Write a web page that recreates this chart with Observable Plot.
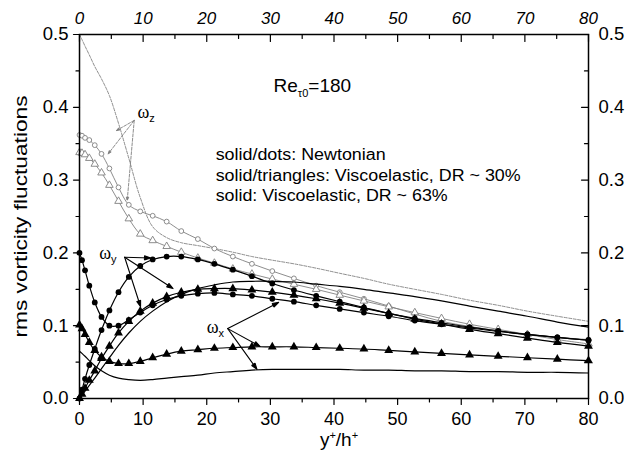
<!DOCTYPE html>
<html>
<head>
<meta charset="utf-8">
<script src="https://cdn.jsdelivr.net/npm/d3@7"></script>
<script src="https://cdn.jsdelivr.net/npm/@observablehq/plot@0.6"></script>
<style>
  body { margin: 0; background: #fff; }
  #chart svg { display: block; }
</style>
</head>
<body>
<div id="chart"></div>
<script>
// Wall-normal grid points (y+) at which the DNS profiles are sampled
const yPlus = [0, 0.39, 0.87, 1.54, 2.40, 3.46, 4.70, 6.13, 7.75, 9.55, 11.5, 13.7, 16.0, 18.6, 21.2,
               24.1, 27.1, 30.3, 33.7, 37.2, 40.9, 44.7, 48.6, 52.7, 56.9, 61.3, 65.8, 70.4, 75.1, 80.0];

// rms vorticity fluctuations, Newtonian (dots)
const wxNewt = [0.200, 0.190, 0.176, 0.155, 0.132, 0.112, 0.100, 0.100, 0.108, 0.118, 0.128, 0.136, 0.141, 0.144, 0.145,
                0.143, 0.141, 0.137, 0.133, 0.128, 0.123, 0.118, 0.113, 0.107, 0.102, 0.097, 0.092, 0.088, 0.084, 0.080];
const wyNewt = [0.000, 0.012, 0.027, 0.046, 0.068, 0.094, 0.121, 0.146, 0.167, 0.182, 0.191, 0.195, 0.195, 0.191, 0.185,
                0.177, 0.168, 0.158, 0.149, 0.141, 0.133, 0.125, 0.117, 0.110, 0.104, 0.098, 0.093, 0.088, 0.084, 0.080];
const wzNewt = [0.362, 0.361, 0.358, 0.355, 0.348, 0.336, 0.316, 0.290, 0.266, 0.257, 0.251, 0.243, 0.230, 0.219, 0.206,
                0.195, 0.185, 0.175, 0.165, 0.155, 0.146, 0.137, 0.127, 0.116, 0.106, 0.099, 0.093, 0.088, 0.084, 0.081];

// Viscoelastic, DR ~ 30% (triangles)
const wxVe30 = [0.101, 0.096, 0.088, 0.077, 0.066, 0.057, 0.051, 0.048, 0.048, 0.051, 0.056, 0.061, 0.065, 0.067, 0.069,
                0.070, 0.071, 0.071, 0.071, 0.070, 0.069, 0.068, 0.066, 0.064, 0.062, 0.060, 0.058, 0.056, 0.054, 0.052];
const wyVe30 = [0.000, 0.006, 0.014, 0.025, 0.038, 0.055, 0.072, 0.090, 0.106, 0.120, 0.131, 0.140, 0.146, 0.150, 0.151,
                0.151, 0.149, 0.146, 0.142, 0.137, 0.131, 0.124, 0.117, 0.109, 0.102, 0.095, 0.089, 0.083, 0.077, 0.072];
const wzVe30 = [0.338, 0.337, 0.335, 0.330, 0.322, 0.310, 0.293, 0.271, 0.247, 0.226, 0.217, 0.209, 0.201, 0.193, 0.186,
                0.178, 0.171, 0.164, 0.157, 0.150, 0.142, 0.134, 0.126, 0.118, 0.110, 0.102, 0.095, 0.088, 0.081, 0.075];

// Viscoelastic, DR ~ 63% (solid lines, no symbols)
const wxVe63 = [0.065, 0.062, 0.058, 0.052, 0.045, 0.038, 0.032, 0.028, 0.026, 0.025, 0.026, 0.028, 0.030, 0.032, 0.035,
                0.037, 0.039, 0.040, 0.040, 0.040, 0.040, 0.039, 0.039, 0.038, 0.038, 0.037, 0.037, 0.036, 0.036, 0.035];
const wyVe63 = [0.000, 0.004, 0.010, 0.018, 0.028, 0.041, 0.056, 0.073, 0.090, 0.106, 0.120, 0.133, 0.143, 0.151, 0.156,
                0.160, 0.161, 0.161, 0.160, 0.157, 0.154, 0.150, 0.145, 0.140, 0.134, 0.127, 0.120, 0.113, 0.105, 0.098];
const wzVe63 = [0.500, 0.493, 0.484, 0.472, 0.456, 0.439, 0.416, 0.378, 0.330, 0.276, 0.236, 0.221, 0.214, 0.210, 0.206,
                0.201, 0.195, 0.190, 0.185, 0.179, 0.172, 0.165, 0.157, 0.150, 0.143, 0.135, 0.128, 0.120, 0.113, 0.106];

// Axis ticks
const xTicks = [0, 10, 20, 30, 40, 50, 60, 70, 80];
const xMinor = [5, 15, 25, 35, 45, 55, 65, 75];
const yTicks = [0, 0.1, 0.2, 0.3, 0.4, 0.5];
const yMinor = [0.05, 0.15, 0.25, 0.35, 0.45];

// Component labels and their pointer arrows (data coordinates)
const compLabels = [
  {x: 9.1, y: 0.393, sub: "z"},
  {x: 3.1, y: 0.199, sub: "y"},
  {x: 20.0, y: 0.0975, sub: "x"}
];
const greyArrows = [
  {x1: 8.6, y1: 0.382, x2: 5.8, y2: 0.368},
  {x1: 8.6, y1: 0.382, x2: 4.5, y2: 0.336},
  {x1: 8.6, y1: 0.382, x2: 7.5, y2: 0.272}
];
const blackArrows = [
  {x1: 7.1, y1: 0.194, x2: 11.2, y2: 0.193},
  {x1: 7.1, y1: 0.194, x2: 14.7, y2: 0.151},
  {x1: 7.1, y1: 0.194, x2: 9.6, y2: 0.126},
  {x1: 23.3, y1: 0.096, x2: 31.3, y2: 0.132},
  {x1: 23.3, y1: 0.096, x2: 28.4, y2: 0.0714},
  {x1: 23.3, y1: 0.096, x2: 27.9, y2: 0.040}
];
const legendLines = [
  {x: 21.4, y: 0.3345, text: "solid/dots: Newtonian"},
  {x: 21.4, y: 0.3063, text: "solid/triangles: Viscoelastic, DR ~ 30%"},
  {x: 21.4, y: 0.2780, text: "solid: Viscoelastic, DR ~ 63%"}
];
const reLabel = [{x: 30.5, y: 0.430}];
const yTitle = ["rms vorticity fluctuations"];

// Rendered widths (px) of the wide, stretched annotation lettering
const legendWidths = [170, 305, 232];
const yTitleWidth = 242;

const GREY = "#808080";
const rows = vals => yPlus.map((x, i) => ({x, y: vals[i]}));

const series = [
  {vals: wzVe63, stroke: GREY, width: 0.9, dash: "3,1.5", marker: null},
  {vals: wzNewt, stroke: GREY, width: 0.9, dash: null, marker: "open-circle"},
  {vals: wzVe30, stroke: GREY, width: 0.9, dash: null, marker: "open-triangle"},
  {vals: wxVe63, stroke: "#000", width: 1.2, dash: null, marker: null},
  {vals: wyVe63, stroke: "#000", width: 1.2, dash: null, marker: null},
  {vals: wxVe30, stroke: "#000", width: 1.2, dash: null, marker: "triangle"},
  {vals: wyVe30, stroke: "#000", width: 1.2, dash: null, marker: "triangle"},
  {vals: wxNewt, stroke: "#000", width: 1.2, dash: null, marker: "dot"},
  {vals: wyNewt, stroke: "#000", width: 1.2, dash: null, marker: "dot"}
];

const curveMarks = series.flatMap(s => {
  const data = rows(s.vals);
  const out = [Plot.line(data, {x: "x", y: "y", stroke: s.stroke, strokeWidth: s.width,
                                strokeDasharray: s.dash, curve: "catmull-rom"})];
  if (s.marker === "dot") out.push(Plot.dot(data, {x: "x", y: "y", r: 2.9, fill: "#000", stroke: "none"}));
  if (s.marker === "triangle") out.push(Plot.dot(data, {x: "x", y: "y", r: 3.3, symbol: "triangle", fill: "#000", stroke: "none"}));
  if (s.marker === "open-circle") out.push(Plot.dot(data, {x: "x", y: "y", r: 2.4, fill: "#fff", stroke: GREY, strokeWidth: 0.9}));
  if (s.marker === "open-triangle") out.push(Plot.dot(data, {x: "x", y: "y", r: 2.8, symbol: "triangle", fill: "#fff", stroke: GREY, strokeWidth: 0.9}));
  return out;
});

// Tick shape: a straight segment drawn along +y before rotation
const tickShape = {draw(ctx, l) { ctx.moveTo(0, 0); ctx.lineTo(0, l); }};
const ticks = (data, anchor, len, rotate) => Plot.vector(data, {
  [anchor === "top" || anchor === "bottom" ? "x" : "y"]: d => d,
  frameAnchor: anchor, length: len, rotate, anchor: "start", shape: tickShape,
  stroke: "#000", strokeWidth: 1.2
});

const FONT = "'Liberation Sans', Arial, Helvetica, sans-serif";

const chart = Plot.plot({
  width: 626,
  height: 461,
  marginLeft: 79,
  marginRight: 38,
  marginTop: 34,
  marginBottom: 63,
  x: {domain: [0, 80], axis: null},
  y: {domain: [0, 0.5], axis: null},
  style: {fontFamily: FONT, background: "#fff", color: "#000", overflow: "visible"},
  marks: [
    ...curveMarks,
    Plot.arrow(greyArrows, {x1: "x1", y1: "y1", x2: "x2", y2: "y2", stroke: GREY, strokeWidth: 0.9,
                            strokeDasharray: "3,1.5", headLength: 6, headAngle: 40, bend: false,
                            ariaLabel: () => "pointer"}),
    Plot.arrow(blackArrows, {x1: "x1", y1: "y1", x2: "x2", y2: "y2", stroke: "#000", strokeWidth: 1.1,
                             headLength: 9, headAngle: 36, bend: false, ariaLabel: () => "pointer"}),
    Plot.text(compLabels, {x: "x", y: "y", text: () => "\u03c9", textAnchor: "start",
                           fontFamily: "'Liberation Serif', 'DejaVu Serif', serif", fontSize: 18,
                           fill: "#000", ariaLabel: () => "component label"}),
    Plot.text(reLabel, {x: "x", y: "y", text: () => "Re", textAnchor: "start", fontSize: 19,
                        fill: "#000", ariaLabel: () => "reynolds label"}),
    Plot.text(legendLines, {x: "x", y: "y", text: "text", textAnchor: "start", fontSize: 16, fill: "#000",
                            ariaLabel: () => "legend line"}),
    Plot.frame({stroke: "#000", strokeWidth: 1.5}),
    // ticks: outward on left/bottom, inward on top/right
    ticks(xTicks, "bottom", 6, 0),
    ticks(xMinor, "bottom", 3.5, 0),
    ticks(xTicks, "top", 7, 0),
    ticks(xMinor, "top", 4, 0),
    ticks(yTicks, "left", 6, 90),
    ticks(yMinor, "left", 3.5, 90),
    ticks(yTicks, "right", 7, 90),
    ticks(yMinor, "right", 4, 90),
    Plot.axisX({anchor: "bottom", ticks: xTicks, tickSize: 0, tickPadding: 14, fontSize: 18,
                tickFormat: d => String(d), label: null}),
    Plot.axisX({anchor: "top", ticks: xTicks, tickSize: 0, tickPadding: 11, fontSize: 17,
                fontStyle: "italic", tickFormat: d => String(d), label: null}),
    Plot.axisY({anchor: "left", ticks: yTicks, tickSize: 0, tickPadding: 11, fontSize: 18.5,
                tickFormat: d => d.toFixed(1), label: null}),
    Plot.axisY({anchor: "right", ticks: yTicks, tickSize: 0, tickPadding: 10, fontSize: 18.5,
                tickFormat: d => d.toFixed(1), label: null}),
    Plot.text(yTitle, {frameAnchor: "left", dx: -58, rotate: -90, textAnchor: "middle", lineAnchor: "middle",
                       text: d => d, fontSize: 18, fill: "#000", ariaLabel: () => "y title"}),
    Plot.text(["y+/h+"], {frameAnchor: "bottom", dx: 5, dy: 41, textAnchor: "middle", lineAnchor: "middle",
                          text: d => d, fontSize: 19, fill: "#000", ariaLabel: () => "x title"})
  ]
});

// Sub- and superscripts, filled arrowheads and stretched annotation lettering
const sel = d3.select(chart);
const pick = (name, tag = "text") => sel.selectAll(`${tag}[aria-label="${name}"], g[aria-label="${name}"] > ${tag}`);
pick("component label").each(function(_, i) {
  const t = d3.select(this).text("");
  t.append("tspan").text("\u03c9");
  t.append("tspan").attr("dy", 4).attr("font-size", 11)
    .attr("font-family", FONT).text(compLabels[i].sub);
});
pick("reynolds label").each(function() {
  const t = d3.select(this).text("");
  t.append("tspan").text("Re");
  t.append("tspan").attr("dy", 5).attr("font-size", 11).text("\u03c40");
  t.append("tspan").attr("dy", -5).text("=180");
});
pick("x title").each(function() {
  const t = d3.select(this).text("");
  t.append("tspan").text("y");
  t.append("tspan").attr("dy", -7).attr("font-size", 11).text("+");
  t.append("tspan").attr("dy", 7).text("/h");
  t.append("tspan").attr("dy", -7).attr("font-size", 11).text("+");
});
pick("legend line").each(function(_, i) {
  d3.select(this).attr("textLength", legendWidths[i]).attr("lengthAdjust", "spacingAndGlyphs");
});
pick("y title").each(function() {
  d3.select(this).attr("textLength", yTitleWidth).attr("lengthAdjust", "spacingAndGlyphs");
});
// close each arrowhead chevron into a solid triangle
pick("pointer", "path").each(function() {
  const p = d3.select(this);
  const d = p.attr("d");
  if (d && !/Z$/i.test(d)) {
    const stroke = p.attr("stroke") || d3.select(this.parentNode).attr("stroke") || "#000";
    p.attr("d", d + "Z").attr("fill", stroke).attr("stroke-dasharray", null);
  }
});

document.getElementById("chart").appendChild(chart);
</script>
</body>
</html>
